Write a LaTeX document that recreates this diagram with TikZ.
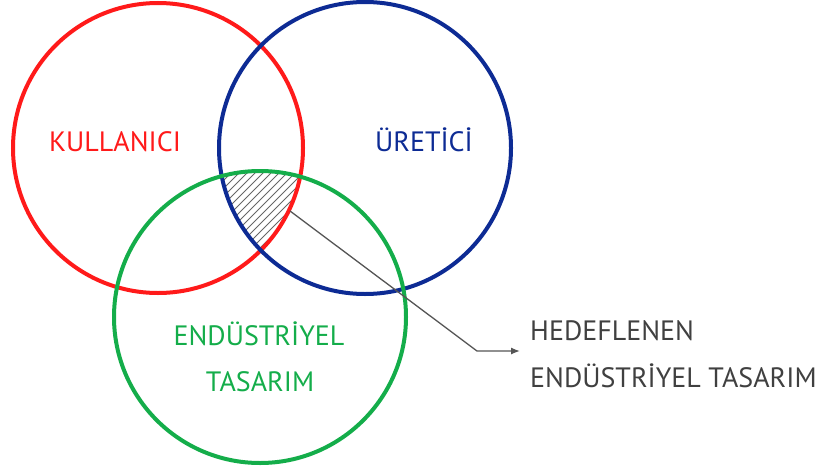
\documentclass[tikz,border=0pt]{standalone}
\usepackage{fontspec}
\setmainfont{PT Sans}
\usetikzlibrary{arrows.meta}
\definecolor{cred}{HTML}{FF1A1A}
\definecolor{cblue}{HTML}{0D2B94}
\definecolor{cgreen}{HTML}{14AD4A}
\definecolor{ctext}{HTML}{404040}
\definecolor{cline}{HTML}{555555}
\definecolor{chatch}{HTML}{666666}
\begin{document}
\begin{tikzpicture}[x=1pt,y=-1pt,
  ring/.style={line width=4pt},
  lbl/.style={font=\fontsize{28}{34}\selectfont, inner sep=0pt, anchor=base},
  side/.style={font=\fontsize{28}{34}\selectfont, inner sep=0pt, anchor=base west, text=ctext},
  hatchline/.style={draw=chatch, line width=1pt},
  leader/.style={draw=cline, line width=1.3pt}]
\useasboundingbox (0,0) rectangle (827,471);
\coordinate (cR) at (158,148);
\coordinate (cB) at (365,148);
\coordinate (cG) at (260,317);
% hatch
\begin{scope}
  \clip (cR) circle[radius=145];
  \clip (cB) circle[radius=146];
  \clip (cG) circle[radius=146];
  \foreach \k in {380,388,...,580}
    \draw[hatchline] (\k-400,400) -- (\k+400,-400);
\end{scope}
\draw[ring, draw=cred] (cR) circle[radius=145];
\draw[ring, draw=cblue] (cB) circle[radius=146];
\draw[ring, draw=cgreen] (cG) circle[radius=146];
\node[lbl, text=cred] (kul) at (115,151) {KULLANICI};
\node[lbl, text=cblue] (ure) at (424,151) {ÜRETİCİ};
\node[lbl, text=cgreen] (end1) at (259,345) {ENDÜSTRİYEL};
\node[lbl, text=cgreen] (tas1) at (260,391) {TASARIM};
\node[side] (hed) at (530,340) {HEDEFLENEN};
\node[side] (end2) at (530,387) {ENDÜSTRİYEL TASARIM};
\coordinate (p0) at (290,211);
\coordinate (p1) at (477,351);
\coordinate (p2) at (520,351);
\draw[leader, -{Latex[length=9pt,width=7pt]}] (p0) -- (p1) -- (p2);
\end{tikzpicture}
\end{document}
